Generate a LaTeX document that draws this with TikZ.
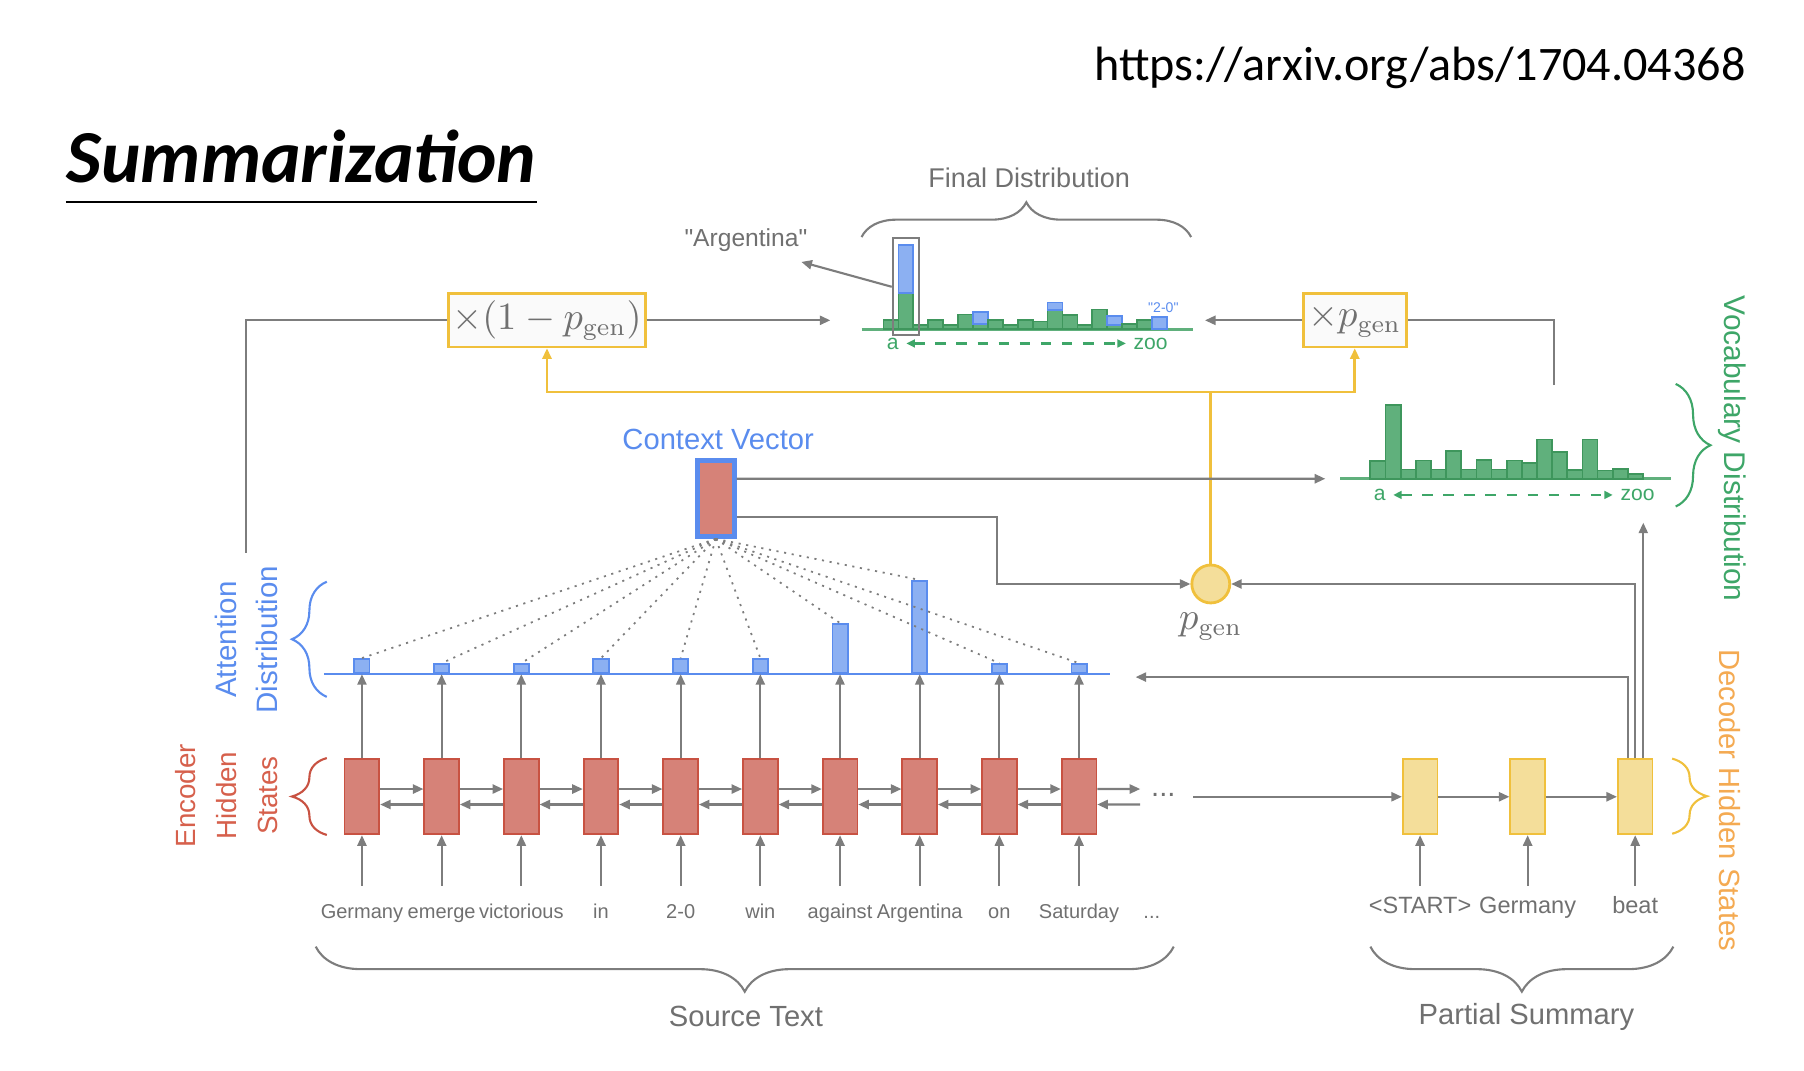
\documentclass[tikz,border=0pt]{standalone}
\usepackage[no-math]{fontspec}
\setmainfont{Liberation Sans}
\newfontfamily\calibri{Carlito}
\usetikzlibrary{arrows.meta,decorations.pathreplacing}
\definecolor{txtgray}{RGB}{112,112,112}
\definecolor{lngray}{RGB}{125,125,125}
\definecolor{encred}{RGB}{214,130,120}
\definecolor{encdraw}{RGB}{200,82,66}
\definecolor{enctxt}{RGB}{214,96,76}
\definecolor{attblue}{RGB}{90,140,238}
\definecolor{barblue}{RGB}{140,176,242}
\definecolor{vocgreen}{RGB}{62,166,104}
\definecolor{bargreen}{RGB}{96,176,124}
\definecolor{bardraw}{RGB}{62,150,92}
\definecolor{decfill}{RGB}{244,222,154}
\definecolor{decdraw}{RGB}{240,192,60}
\definecolor{dectxt}{RGB}{244,170,82}
\newcommand{\pxu}{0.329pt}
\tikzset{
  arr/.style={draw=lngray, line width=0.6pt, -{Triangle[length=3pt,width=2.6pt]}},
  gline/.style={draw=lngray, line width=0.6pt},
  yarr/.style={draw=decdraw, line width=0.8pt, -{Triangle[length=3pt,width=2.6pt]}},
  garr/.style={draw=vocgreen, line width=0.6pt, dashed, {Triangle[length=2.4pt,width=2.2pt]}-{Triangle[length=2.4pt,width=2.2pt]}},
  enc/.style={draw=encdraw, fill=encred, line width=0.5pt, minimum width=30*\pxu, minimum height=65*\pxu, inner sep=0pt},
  dec/.style={draw=decdraw, fill=decfill, line width=0.5pt, minimum width=30*\pxu, minimum height=65*\pxu, inner sep=0pt},
  abar/.style={draw=attblue, fill=barblue, line width=0.5pt, minimum width=13.2*\pxu, inner sep=0pt},
  gbar/.style={draw=bardraw, fill=bargreen, line width=0.5pt},
  bbar/.style={draw=attblue, fill=barblue, line width=0.5pt},
  mulbox/.style={draw=decdraw, fill=black!2, line width=0.8pt, minimum height=46*\pxu, inner sep=0pt, text=txtgray, font=\fontsize{10.5}{12}\selectfont},
  gate/.style={circle, draw=decdraw, fill=decfill, line width=0.8pt, minimum size=32.8*\pxu, inner sep=0pt},
  lbl/.style={font=\fontsize{8.3}{11.6}\selectfont, text=txtgray},
  word/.style={font=\fontsize{5.7}{7}\selectfont, text=txtgray, anchor=base},
  dword/.style={font=\fontsize{6.7}{8}\selectfont, text=txtgray, anchor=base},
  axl/.style={font=\fontsize{6}{7}\selectfont, text=vocgreen, inner sep=2pt},
  brc/.style={decorate, decoration={brace, amplitude=#1}, line width=0.6pt},
  attline/.style={draw=lngray, line width=0.5pt, dash pattern=on 0.6pt off 1.6pt}
}
\begin{document}
\begin{tikzpicture}[x=0.329pt, y=-0.329pt]
\useasboundingbox (0,0) rectangle (1560,925.3);
\node[anchor=base west, inner sep=0pt, font=\calibri\bfseries\itshape\fontsize{21.3}{26}\selectfont] (title) at (57,158) {Summarization};
\draw[line width=0.7pt] (57,174.6) -- (464,174.6);
\node[anchor=base east, inner sep=0pt, font=\calibri\fontsize{13.7}{16}\selectfont] (url) at (1510,70) {https://arxiv.org/abs/1704.04368};

\draw[draw=attblue, line width=0.6pt] (280,583) -- (960,583);
\foreach \w/\h [count=\i] in {Germany/12.4,emerge/8,victorious/8,in/12.4,2-0/12.4,win/12.4,against/42.7,Argentina/80,on/8,Saturday/8}{
  \pgfmathsetmacro\x{313+68.9*(\i-1)}
  \node[enc] (e\i) at (\x,689) {};
  \node[abar, minimum height=\h*\pxu, anchor=south] (b\i) at (\x,583) {};
  \node[word] (w\i) at (\x,794) {\w};
  \coordinate (i\i) at (\x,766);
  \draw[arr] (i\i) -- (e\i);
  \draw[arr] (e\i) -- (b\i.south);
}
\foreach \i [evaluate=\i as \j using int(\i+1)] in {1,...,9}{
  \draw[arr] ([yshift=2.2pt]e\i.east) -- ([yshift=2.2pt]e\j.west);
  \draw[arr] ([yshift=-2.2pt]e\j.west) -- ([yshift=-2.2pt]e\i.east);
}
\coordinate (fwd) at (986,682.3);
\coordinate (bwd) at (986,695.7);
\draw[arr] ([yshift=2.2pt]e10.east) -- (fwd);
\draw[arr] (bwd) -- ([yshift=-2.2pt]e10.east);
\node[lbl] (dots) at (1006,687) {...};
\node[word] (wdots) at (996,794) {...};

\node[dec] (d1) at (1228,689) {};
\node[dec] (d2) at (1321,689) {};
\node[dec] (d3) at (1414,689) {};
\coordinate (gap) at (1032,689);
\draw[arr] (gap) -- (d1);
\draw[arr] (d1) -- (d2);
\draw[arr] (d2) -- (d3);
\foreach \w/\n in {<START>/1,Germany/2,beat/3}{
  \node[dword] (v\n) at (d\n |- 0,790) {\w};
  \coordinate (j\n) at (d\n |- 0,766);
  \draw[arr] (j\n) -- (d\n);
}

\node[enc, draw=attblue, line width=1.3pt, minimum width=32*\pxu, minimum height=66*\pxu] (cv) at (619,431) {};
\node[lbl, text=attblue] (cvlbl) at (621,380) {Context Vector};
\foreach \i in {1,...,10}
  \draw[attline] (cv.south) -- (b\i.north);

\node[gate] (pg) at (1047,505) {};
\node[lbl, font=\fontsize{10.5}{12}\selectfont] (pglbl) at (1047,542) {$p_{\mathrm{gen}}$};
\coordinate (ck) at (862,505);
\draw[arr] ([yshift=-5.3pt]cv.east) -| (ck) -- (pg.west);
\draw[arr] (d3.north) |- (pg.east);
\coordinate (attin) at (982,585.5);
\draw[arr] ([xshift=-2.1pt]d3.north) |- (attin);
\coordinate (vin) at (1421,452);
\draw[arr] (d3.north -| vin) -- (vin);

\node[mulbox, minimum width=170*\pxu] (m1) at (473,277) {$\times(1-p_{\mathrm{gen}})$};
\node[mulbox, minimum width=89*\pxu] (m2) at (1171.5,277) {$\times p_{\mathrm{gen}}$};
\coordinate (yj) at (1047,339);
\draw[yarr] (pg) -- (yj) -| (m1.south);
\draw[yarr] (yj) -| (m2.south);
\coordinate (atl) at (213,478);
\draw[gline] (atl) |- (m1.west);
\coordinate (fdin) at (718,277);
\draw[arr] (m1.east) -- (fdin);
\coordinate (fdin2) at (1042,277);
\draw[arr] (m2.west) -- (fdin2);
\coordinate (vout) at (1344,333);
\draw[gline] (vout) |- (m2.east);

\draw[draw=bargreen, line width=0.8pt] (745,284.6) -- (1032,284.6);
\foreach \g/\b [count=\i] in {8/0,31/73,3.5/0,8/0,3.5/0,12.7/0,4.3/15,8/0,3.5/0,8/0,6.6/0,16.7/23,12/0,3.5/0,17/0,3.5/11.5,4.6/0,8/0,0/10.4}{
  \pgfmathsetmacro\x{764+12.9*(\i-1)}
  \ifdim\g pt>0pt \draw[gbar] (\x,284.6) rectangle ++(12.9,-\g); \fi
  \ifdim\b pt>0pt \draw[bbar] (\x,284.6-\g) rectangle ++(12.9,\g-\b); \fi
}
\node[draw=lngray, line width=0.6pt, minimum width=23*\pxu, minimum height=84*\pxu, inner sep=0pt] (hl) at (783.5,248) {};
\node[lbl, font=\fontsize{7}{8}\selectfont] (arglbl) at (645,207.5) {\textquotedbl Argentina\textquotedbl};
\coordinate (argtip) at (693,226.5);
\draw[arr] (hl.west) -- (argtip);
\node[font=\fontsize{4}{5}\selectfont, text=attblue, inner sep=0pt] (twolbl) at (1006,266) {\textquotedbl 2-0\textquotedbl};
\node[axl] (fa) at (772,297) {a};
\node[axl] (fz) at (995,297) {zoo};
\draw[garr] (fa) -- (fz);
\draw[brc=9.9pt, draw=lngray] (745,205) -- (1030,205);
\node[lbl, font=\fontsize{7.7}{9}\selectfont] (fdlbl) at (890,154) {Final Distribution};

\draw[draw=bargreen, line width=0.8pt] (1159,414) -- (1445,414);
\foreach \h [count=\i] in {15.3,64,8,15.8,8,24,8,16.4,8,15.8,13.3,34,23,7.5,34,7.2,8.4,4.3}
  \draw[gbar] ({1185+13.1*(\i-1)},414) rectangle ++(13.1,-\h);
\coordinate (vocin) at (1146,414);
\draw[arr] ([yshift=5.6pt]cv.east) -- (vocin);
\node[axl] (va) at (1193,428) {a};
\node[axl] (vz) at (1416,428) {zoo};
\draw[garr] (va) -- (vz);

\draw[brc=9.9pt, draw=attblue] (282.6,602.6) -- (282.6,503);
\node[lbl, font=\fontsize{8.4}{11.6}\selectfont, text=attblue, rotate=90, align=center] (attlbl) at (213,553) {Attention\\Distribution};
\draw[brc=9.9pt, draw=encdraw] (282.6,722) -- (282.6,655.5);
\node[lbl, font=\fontsize{7.9}{11.6}\selectfont, text=enctxt, rotate=90, align=center] (enclbl) at (196,688) {Encoder\\Hidden\\States};
\draw[brc=9.9pt, draw=vocgreen] (1449,332) -- (1449,438);
\node[lbl, font=\fontsize{8.5}{10}\selectfont, text=vocgreen, rotate=-90] (voclbl) at (1498,388) {Vocabulary Distribution};
\draw[brc=9.9pt, draw=decdraw] (1446,656) -- (1446,721);
\node[lbl, font=\fontsize{8.3}{10}\selectfont, text=dectxt, rotate=-90] (declbl) at (1496,692) {Decoder Hidden States};

\draw[brc=12.8pt, draw=lngray] (1015,818.6) -- (273,818.6);
\node[lbl] (srclbl) at (645,879) {Source Text};
\draw[brc=12.8pt, draw=lngray] (1447,818.6) -- (1185,818.6);
\node[lbl] (sumlbl) at (1320,879) {Partial Summary};
\end{tikzpicture}
\end{document}
